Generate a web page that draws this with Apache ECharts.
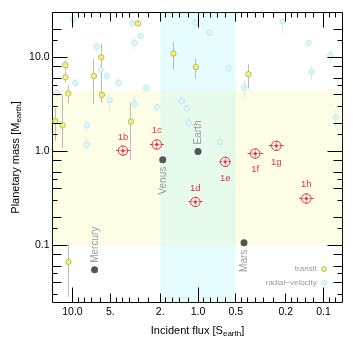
<!DOCTYPE html>
<html><head><meta charset="utf-8">
<script src="https://cdn.jsdelivr.net/npm/echarts@6/dist/echarts.min.js"></script>
<style>html,body{margin:0;padding:0;background:#fff}#c{width:353px;height:345px}</style>
</head><body><div id="c"></div>
<script>
// ---------------- data ----------------
const transitFlux   = [3.01, 5.90, 11.4, 11.4, 6.75, 10.8, 5.83, 13.7, 12.0, 3.42, 1.57, 1.04, 0.396, 10.76];
const transitMass   = [23.0, 10.07, 8.28, 6.17, 6.37, 4.14, 4.00, 2.10, 1.90, 2.08, 11.03, 7.92, 6.64, 0.0667];
const transitMassLo = [21.6, 4.8, 7.3, 5.4, 3.2, 3.26, 3.3, 1.3, 1.08, 0.81, 7.45, 5.97, 4.67, 0.0283];
const transitMassHi = [24.6, 14.0, 9.4, 7.1, 9.6, 5.07, 4.9, 2.9, 3.96, 3.26, 14.6, 9.75, 8.5, 0.103];

const rvFlux   = [9.93, 3.33, 2.87, 3.21, 6.39, 5.94, 5.32, 9.47, 4.30, 2.59, 13.3, 5.07, 3.21, 2.13, 7.68, 7.74, 1.05, 0.81, 0.571, 0.428, 1.35, 1.23, 1.19, 0.665, 0.211, 0.1317, 0.0884, 0.1246, 0.0796];
const rvMass   = [25.4, 23.0, 16.9, 14.3, 12.97, 7.45, 6.32, 5.37, 5.37, 4.75, 4.20, 3.51, 3.24, 2.98, 1.90, 1.18, 23.4, 18.4, 7.64, 4.79, 3.45, 2.87, 2.02, 1.26, 24.2, 14.3, 10.6, 7.03, 2.30];
const rvMassLo = [24.0, 21.0, 15.6, 12.0, 11.5, 6.6, 5.7, 4.9, 4.8, 4.3, 3.8, 2.6, 2.8, 2.7, 1.65, 1.02, 22.0, 16.9, 6.8, 3.75, 3.1, 2.6, 1.76, 1.1, 18.2, 13.2, 8.5, 5.7, 1.8];
const rvMassHi = [27.0, 25.0, 18.3, 16.6, 14.1, 8.4, 7.0, 5.9, 6.0, 5.2, 4.6, 4.1, 3.9, 3.3, 2.2, 1.36, 25.0, 20.0, 8.6, 5.73, 3.85, 3.2, 2.34, 1.45, 26.0, 15.5, 12.0, 8.1, 2.75];

const trappistNames  = ['1b', '1c', '1d', '1e', '1f', '1g', '1h'];
const trappistFlux   = [3.96, 2.13, 1.05, 0.607, 0.35, 0.238, 0.137];
const trappistFluxLo = [3.48, 1.87, 0.92, 0.547, 0.304, 0.208, 0.120];
const trappistFluxHi = [4.50, 2.42, 1.19, 0.674, 0.403, 0.272, 0.156];
const trappistMass   = [1.02, 1.186, 0.29, 0.775, 0.95, 1.147, 0.316];
const trappistMassLo = [0.90, 1.05, 0.257, 0.686, 0.84, 1.015, 0.28];
const trappistMassHi = [1.15, 1.34, 0.328, 0.876, 1.07, 1.30, 0.357];
const trappistLabelSide = ['top', 'top', 'top', 'bottom', 'bottom', 'bottom', 'top'];

const solarNames = ['Mercury', 'Venus', 'Earth', 'Mars'];
const solarFlux  = [6.67, 1.91, 1.0, 0.43];
const solarMass  = [0.055, 0.815, 1.0, 0.107];
const solarLabelSide = ['above', 'below', 'above', 'below'];

const habitableFlux = [2, 0.5];
const rockyMass = [0.1, 4.5];

const xMajorTicks = [10, 1, 0.1];
const xMidTicks = [5, 2, 0.5, 0.2];
const xMinorTicks = [9, 8, 7, 6, 4.5, 4, 3.5, 3, 2.5, 1.8, 1.6, 1.4, 1.2, 0.9, 0.8, 0.7, 0.6, 0.45, 0.4, 0.35, 0.3, 0.25, 0.18, 0.16, 0.14, 0.12, 0.09, 0.08];
const xLabelValues = [10, 5, 2, 1, 0.5, 0.2, 0.1];
const xLabelTexts = ['10.0', '5.', '2.', '1.0', '0.5', '0.2', '0.1'];
const yMajorTicks = [10, 1, 0.1];
const yMidTicks = [20, 8, 6, 4, 2, 0.8, 0.6, 0.4, 0.2, 0.08, 0.06, 0.04];
const yMinorTicks = [15, 5, 3, 1.5, 0.5, 0.3, 0.15, 0.05, 0.03];
const yLabelValues = [10, 1, 0.1];
const yLabelTexts = ['10.0', '1.0', '0.1'];

// ---------------- chart ----------------
const FONT = 'Liberation Sans';
const TICK_LEN = [15, 9, 5];
const RED = '#e2343c';
const TRANSIT_FILL = '#f5f07c', TRANSIT_EDGE = '#aaa448';
const RV_FILL = '#dcf7fb', RV_EDGE = '#b2e2ea';
const crisp = v => Math.floor(v) + 0.5;

function vErr(color) {
  return function (params, api) {
    const p1 = api.coord([api.value(0), api.value(1)]);
    const p2 = api.coord([api.value(0), api.value(2)]);
    const x = crisp(p1[0]);
    return { type: 'line', shape: { x1: x, y1: p1[1], x2: x, y2: p2[1] }, style: { stroke: color, lineWidth: 1 } };
  };
}

const xTickData = [].concat(
  xMajorTicks.map(v => [v, 1, 0]), xMidTicks.map(v => [v, 1, 1]), xMinorTicks.map(v => [v, 1, 2]));
const yTickData = [].concat(
  yMajorTicks.map(v => [1, v, 0]), yMidTicks.map(v => [1, v, 1]), yMinorTicks.map(v => [1, v, 2]));

const chart = echarts.init(document.getElementById('c'), null, { renderer: 'canvas' });
chart.setOption({
  animation: false,
  backgroundColor: '#fff',
  textStyle: { fontFamily: FONT },
  grid: { left: 52.5, top: 12.5, width: 290, height: 290, show: true, borderColor: '#000', borderWidth: 1, backgroundColor: 'transparent' },
  xAxis: {
    type: 'log', logBase: 10, inverse: true, min: 0.0706, max: 14.43,
    axisLine: { show: false }, axisTick: { show: false }, axisLabel: { show: false }, splitLine: { show: false },
    name: 'Incident flux [S{sub|earth}]', nameLocation: 'middle', nameGap: 21,
    nameTextStyle: { fontSize: 11, color: '#000', fontFamily: FONT,
      rich: { sub: { fontSize: 8, fontFamily: FONT, color: '#000', padding: [6, 0, 0, 0] } } }
  },
  yAxis: {
    type: 'log', logBase: 10, min: 0.0247, max: 30.1,
    axisLine: { show: false }, axisTick: { show: false }, axisLabel: { show: false }, splitLine: { show: false },
    name: 'Planetary mass [M{sub|earth}]', nameLocation: 'middle', nameGap: 30, nameRotate: 90,
    nameTextStyle: { fontSize: 11, color: '#000', fontFamily: FONT,
      rich: { sub: { fontSize: 8, fontFamily: FONT, color: '#000', padding: [6, 0, 0, 0] } } }
  },
  legend: {
    data: [
      { name: 'transit', icon: 'circle', itemStyle: { color: TRANSIT_FILL, borderColor: TRANSIT_EDGE, borderWidth: 0.7 } },
      { name: 'radial\u2212velocity', icon: 'circle', itemStyle: { color: RV_FILL, borderColor: RV_EDGE, borderWidth: 0.7 } }
    ],
    orient: 'vertical', right: 21, top: 260, align: 'right',
    itemWidth: 5, itemHeight: 5, itemGap: 6, selectedMode: false,
    textStyle: { fontSize: 8, color: '#999', fontFamily: FONT }
  },
  series: [
    {
      name: 'zones', type: 'scatter', data: [], silent: true, z: 0,
      markArea: {
        silent: true, label: { show: false },
        data: [
          [{ yAxis: rockyMass[0], itemStyle: { color: 'rgba(250,250,120,0.18)' } }, { yAxis: rockyMass[1] }],
          [{ xAxis: habitableFlux[0], itemStyle: { color: 'rgba(110,240,255,0.17)' } }, { xAxis: habitableFlux[1] }]
        ]
      }
    },
    {
      name: 'rvErr', type: 'custom', z: 2, silent: true, clip: true,
      encode: { x: 0, y: [1, 2] },
      data: rvFlux.map((f, i) => [f, rvMassLo[i], rvMassHi[i]]),
      renderItem: vErr('#d6ecef')
    },
    {
      name: 'transitErr', type: 'custom', z: 2, silent: true, clip: true,
      encode: { x: 0, y: [1, 2] },
      data: transitFlux.map((f, i) => [f, transitMassLo[i], transitMassHi[i]]),
      renderItem: vErr('#bcbcbc')
    },
    {
      name: 'radial\u2212velocity', type: 'scatter', z: 3, silent: true, symbol: 'circle', symbolSize: 5.5,
      itemStyle: { color: RV_FILL, borderColor: RV_EDGE, borderWidth: 0.7, opacity: 1 },
      data: rvFlux.map((f, i) => [f, rvMass[i]])
    },
    {
      name: 'transit', type: 'scatter', z: 3, silent: true, symbol: 'circle', symbolSize: 5.5,
      itemStyle: { color: TRANSIT_FILL, borderColor: TRANSIT_EDGE, borderWidth: 0.7, opacity: 1 },
      data: transitFlux.map((f, i) => [f, transitMass[i]])
    },
    {
      name: 'solar', type: 'scatter', z: 4, silent: true, symbol: 'circle', symbolSize: 7,
      itemStyle: { color: '#555', opacity: 1 },
      data: solarFlux.map((f, i) => [f, solarMass[i]])
    },
    {
      name: 'solarLabels', type: 'custom', z: 4, silent: true, clip: false,
      encode: { x: 0, y: 1 },
      data: solarFlux.map((f, i) => [f, solarMass[i]]),
      renderItem: function (params, api) {
        const p = api.coord([api.value(0), api.value(1)]);
        const up = solarLabelSide[params.dataIndex] === 'above';
        return {
          type: 'text', x: p[0] + 0.5, y: up ? p[1] - 7 : p[1] + 7, rotation: Math.PI / 2,
          style: { text: solarNames[params.dataIndex], align: up ? 'left' : 'right', verticalAlign: 'middle',
                   fill: '#9a9a9a', font: '10px "Liberation Sans"' }
        };
      }
    },
    {
      name: 'trappistErr', type: 'custom', z: 5, silent: true, clip: true,
      encode: { x: [0, 2, 3], y: [1, 4, 5] },
      data: trappistFlux.map((f, i) => [f, trappistMass[i], trappistFluxLo[i], trappistFluxHi[i], trappistMassLo[i], trappistMassHi[i]]),
      renderItem: function (params, api) {
        const c = api.coord([api.value(0), api.value(1)]);
        const h1 = api.coord([api.value(2), api.value(1)]);
        const h2 = api.coord([api.value(3), api.value(1)]);
        const v1 = api.coord([api.value(0), api.value(4)]);
        const v2 = api.coord([api.value(0), api.value(5)]);
        const st = { stroke: RED, lineWidth: 1 };
        return { type: 'group', children: [
          { type: 'line', shape: { x1: h1[0], y1: crisp(c[1]), x2: h2[0], y2: crisp(c[1]) }, style: st },
          { type: 'line', shape: { x1: crisp(c[0]), y1: v1[1], x2: crisp(c[0]), y2: v2[1] }, style: st }
        ] };
      }
    },
    {
      name: 'trappist', type: 'scatter', z: 6, silent: true, symbol: 'circle', symbolSize: 9.5,
      itemStyle: { color: 'rgba(255,240,240,0.55)', borderColor: RED, borderWidth: 1, opacity: 1 },
      label: { show: true, color: RED, fontSize: 9.5, fontFamily: FONT,
               formatter: p => trappistNames[p.dataIndex] },
      data: trappistFlux.map((f, i) => ({
        value: [f, trappistMass[i]],
        label: trappistLabelSide[i] === 'top' ? { position: 'top', distance: 3.5 } : { position: 'bottom', distance: 6 }
      }))
    },
    {
      name: 'trappistDot', type: 'scatter', z: 7, silent: true, symbol: 'circle', symbolSize: 3,
      itemStyle: { color: RED, opacity: 1 },
      data: trappistFlux.map((f, i) => [f, trappistMass[i]])
    },
    {
      name: 'xTicks', type: 'custom', z: 10, silent: true, clip: false,
      encode: { x: 0, y: 1 }, data: xTickData,
      renderItem: function (params, api) {
        const cs = params.coordSys;
        const x = crisp(api.coord([api.value(0), 1])[0]);
        const len = TICK_LEN[api.value(2)];
        const b = cs.y + cs.height, t = cs.y;
        const st = { stroke: '#000', lineWidth: 1 };
        return { type: 'group', children: [
          { type: 'line', shape: { x1: x, y1: b, x2: x, y2: b - len }, style: st },
          { type: 'line', shape: { x1: x, y1: t, x2: x, y2: t + len }, style: st }
        ] };
      }
    },
    {
      name: 'yTicks', type: 'custom', z: 10, silent: true, clip: false,
      encode: { x: 0, y: 1 }, data: yTickData,
      renderItem: function (params, api) {
        const cs = params.coordSys;
        const y = crisp(api.coord([1, api.value(1)])[1]);
        const len = TICK_LEN[api.value(2)];
        const l = cs.x, r = cs.x + cs.width;
        const st = { stroke: '#000', lineWidth: 1 };
        return { type: 'group', children: [
          { type: 'line', shape: { x1: l, y1: y, x2: l + len, y2: y }, style: st },
          { type: 'line', shape: { x1: r, y1: y, x2: r - len, y2: y }, style: st }
        ] };
      }
    },
    {
      name: 'xLabels', type: 'custom', z: 10, silent: true, clip: false,
      encode: { x: 0, y: 1 }, data: xLabelValues.map(v => [v, 1]),
      renderItem: function (params, api) {
        const cs = params.coordSys;
        const x = api.coord([api.value(0), 1])[0];
        return { type: 'text', x: x, y: cs.y + cs.height + 10, style: {
          text: xLabelTexts[params.dataIndex], align: 'center', verticalAlign: 'middle',
          fill: '#000', font: '10.5px "Liberation Sans"' } };
      }
    },
    {
      name: 'yLabels', type: 'custom', z: 10, silent: true, clip: false,
      encode: { x: 0, y: 1 }, data: yLabelValues.map(v => [1, v]),
      renderItem: function (params, api) {
        const cs = params.coordSys;
        const y = api.coord([1, api.value(1)])[1];
        return { type: 'text', x: cs.x - 3, y: y, style: {
          text: yLabelTexts[params.dataIndex], align: 'right', verticalAlign: 'middle',
          fill: '#000', font: '10.5px "Liberation Sans"' } };
      }
    }
  ]
});
</script>
</body></html>
